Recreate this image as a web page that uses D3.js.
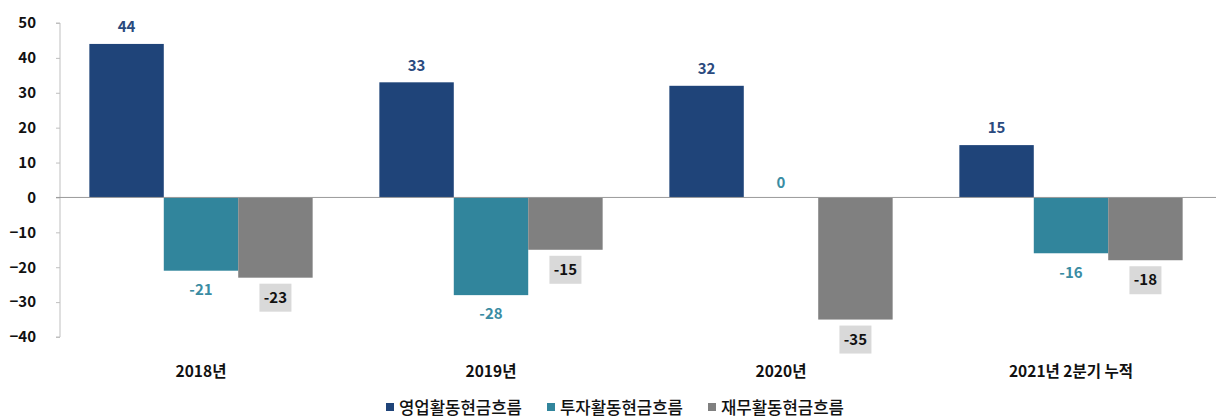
<!DOCTYPE html>
<html><head><meta charset="utf-8">
<script src="https://cdn.jsdelivr.net/npm/d3@7"></script>
<style>body{margin:0;background:#fff}svg{display:block}text{font-family:"Noto Sans CJK KR","Noto Sans",sans-serif;font-weight:bold}</style>
</head><body><svg id="c" width="1223" height="418"></svg>
<script>
const categories = ["2018년","2019년","2020년","2021년 2분기 누적"];
const seriesNames = ["영업활동현금흐름","투자활동현금흐름","재무활동현금흐름"];
const operating = [44,33,32,15];
const investing = [-21,-28,0,-16];
const financing = [-23,-15,-35,-18];
const yTicks = [50,40,30,20,10,0,-10,-20,-30,-40];
const colors = ["#1f4479","#31859c","#808080"];
const labelColors = ["#2a4a7e","#3a8ca3","#111"];

const seriesVals = [operating, investing, financing];
const svg = d3.select("#c");
const left = 56, right = 1216;
const y = d3.scaleLinear().domain([-40,50]).range([337,23]);
const x0 = d3.scaleBand().domain(categories).range([left,right]).paddingInner(0.23).paddingOuter(0.115);
const x1 = d3.scaleBand().domain(seriesNames).range([0,x0.bandwidth()]);

// y axis
const ax = svg.append("g").attr("transform",`translate(${left},0)`)
  .call(d3.axisLeft(y).tickValues(yTicks).tickSize(-4).tickPadding(10).tickFormat(d3.format("d")));
ax.select(".domain").attr("stroke","#bfbfbf").attr("d",`M-4,${y(50)}H0V${y(-40)}H-4`).attr("transform","translate(4,0)");
ax.selectAll(".tick line").attr("stroke","#bfbfbf");
ax.selectAll(".tick text").attr("font-size",15).attr("fill","#111").attr("x",-20);

// bars
const g = svg.append("g");
categories.forEach((c,i)=>{
  seriesVals.forEach((vals,s)=>{
    const v = vals[i];
    const bx = x0(c)+x1(seriesNames[s]);
    const bw = x1.bandwidth();
    g.append("rect").attr("x",bx).attr("width",bw)
      .attr("y",y(Math.max(0,v))).attr("height",Math.abs(y(v)-y(0)))
      .attr("fill",colors[s]);
  });
});

// zero line
svg.append("line").attr("x1",left).attr("x2",right).attr("y1",y(0)).attr("y2",y(0)).attr("stroke","#999").attr("stroke-width",1);

// labels
categories.forEach((c,i)=>{
  seriesVals.forEach((vals,s)=>{
    const v = vals[i];
    const cx = x0(c)+x1(seriesNames[s])+x1.bandwidth()/2;
    let ty;
    if (v>0) ty = y(v)-17;
    else if (v===0) ty = y(0)-15;
    else ty = y(v)+(s===2?20:19);
    const lab = String(v);
    if (s===2) {
      const w = lab.length*8+8;
      svg.append("rect").attr("x",cx-w/2).attr("y",ty-14).attr("width",w).attr("height",28).attr("fill","#d9d9d9");
    }
    svg.append("text").attr("x",cx).attr("y",ty).attr("dy","0.35em").attr("text-anchor","middle")
      .attr("font-size",15).attr("fill",labelColors[s]).text(lab);
  });
  svg.append("text").attr("x",x0(c)+x0.bandwidth()/2).attr("y",372).attr("dy","0.35em").attr("text-anchor","middle")
    .attr("font-size",15.5).attr("fill","#111").text(c);
});

// legend
const legX = [386,547,708];
seriesNames.forEach((n,s)=>{
  svg.append("rect").attr("x",legX[s]).attr("y",403).attr("width",8).attr("height",8).attr("fill",colors[s]);
  svg.append("text").attr("x",legX[s]+13).attr("y",408).attr("dy","0.35em").attr("font-size",17)
    .attr("textLength",123).attr("lengthAdjust","spacingAndGlyphs")
    .style("font-weight","500").attr("fill","#111").text(n);
});
</script></body></html>
